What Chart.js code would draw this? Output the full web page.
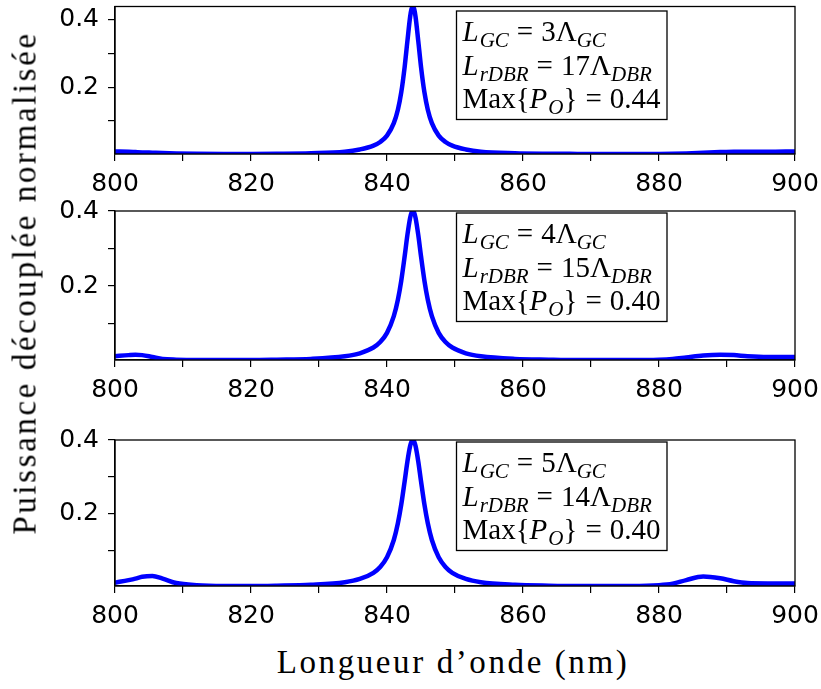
<!DOCTYPE html>
<html>
<head>
<meta charset="utf-8">
<script src="https://cdn.jsdelivr.net/npm/chart.js@4.4.0/dist/chart.umd.min.js"></script>
<style>
  html, body { margin: 0; padding: 0; background: #fff; }
  #fig { position: relative; width: 821px; height: 689px; overflow: hidden; }
  canvas { position: absolute; left: 0; }
  .ttl { position: absolute; font-family: "Liberation Serif", serif; font-size: 33px;
         letter-spacing: 2.6px; white-space: nowrap; color: #000; }
  #xt { left: 453px; top: 662px; transform: translate(-50%, -50%); }
  #yt { left: 25px; top: 283px; transform: translate(-50%, -50%) rotate(-90deg); }
</style>
</head>
<body>
<div id="fig">
  <canvas id="c1" width="821" height="200" style="top:0px"></canvas>
  <canvas id="c2" width="821" height="206" style="top:200px"></canvas>
  <canvas id="c3" width="821" height="226" style="top:406px"></canvas>
  <div class="ttl" id="xt">Longueur d’onde (nm)</div>
  <div class="ttl" id="yt">Puissance découplée normalisée</div>
</div>
<script>
// wavelength grid (nm), shared by the three panels
const WAVELENGTHS = [800, 802, 803, 804, 805.5, 807, 809, 812, 816, 820, 823.8, 828.8, 833.8, 836, 838, 839, 840,
  841, 841.6, 842.1, 842.6, 843, 843.4, 843.6, 843.8, 844, 844.2, 844.6, 845, 845.5, 846, 846.6, 847.6, 848.6,
  849.6, 851.6, 853.8, 858.8, 863.8, 868, 872, 876, 880, 882, 884, 886.5, 889, 891, 893, 896, 900];

// L_GC = 3, L_rDBR = 17
const POWER_1 = [0.009, 0.008, 0.007, 0.006, 0.005, 0.004, 0.003, 0.002, 0.0015, 0.0015, 0.002, 0.0035, 0.008,
  0.0147, 0.026, 0.037, 0.056, 0.093, 0.133, 0.185, 0.261, 0.337, 0.409, 0.432, 0.44, 0.432, 0.409, 0.337,
  0.261, 0.185, 0.133, 0.093, 0.056, 0.037, 0.026, 0.0147, 0.008, 0.0035, 0.002, 0.0015, 0.0012, 0.0012,
  0.0015, 0.002, 0.003, 0.005, 0.007, 0.008, 0.008, 0.008, 0.009];

// L_GC = 4, L_rDBR = 15
const POWER_2 = [0.013, 0.016, 0.017, 0.016, 0.011, 0.006, 0.004, 0.003, 0.003, 0.003, 0.004, 0.006, 0.013,
  0.0209, 0.0362, 0.0508, 0.0753, 0.1197, 0.1636, 0.2147, 0.2797, 0.336, 0.3818, 0.3953, 0.40, 0.3953, 0.3818,
  0.336, 0.2797, 0.2147, 0.1636, 0.1197, 0.0753, 0.0508, 0.0362, 0.0209, 0.013, 0.006, 0.004, 0.003, 0.003,
  0.003, 0.004, 0.006, 0.010, 0.015, 0.017, 0.016, 0.013, 0.011, 0.011];

// L_GC = 5, L_rDBR = 14
const POWER_3 = [0.013, 0.020, 0.024, 0.029, 0.031, 0.024, 0.012, 0.006, 0.004, 0.004, 0.005, 0.0075, 0.0144,
  0.0231, 0.0399, 0.0557, 0.082, 0.1288, 0.174, 0.2252, 0.2885, 0.3414, 0.3835, 0.3958, 0.40, 0.3958, 0.3835,
  0.3414, 0.2885, 0.2252, 0.174, 0.1288, 0.082, 0.0557, 0.0399, 0.0231, 0.0144, 0.0075, 0.005, 0.004, 0.004,
  0.004, 0.006, 0.010, 0.020, 0.030, 0.025, 0.017, 0.012, 0.011, 0.011];

const Y_LIMITS = [[0.0012, 0.44], [0.003, 0.40], [0.004, 0.40]];
const Y_TICKS = [0.1, 0.2, 0.3, 0.4];
const X_MIN = 800, X_MAX = 900, X_STEP = 10;

// annotation text: [text, style]  i = italic, r = roman, s = italic subscript, e = spaced "="
const NOTES = [
  [[['L','i'],['GC','s'],['=','e'],['3Λ','r'],['GC','s']],
   [['L','i'],['rDBR','s'],['=','e'],['17Λ','r'],['DBR','s']],
   [['Max{','r'],['P','i'],['O','s'],['}','r'],['=','e'],['0.44','r']]],
  [[['L','i'],['GC','s'],['=','e'],['4Λ','r'],['GC','s']],
   [['L','i'],['rDBR','s'],['=','e'],['15Λ','r'],['DBR','s']],
   [['Max{','r'],['P','i'],['O','s'],['}','r'],['=','e'],['0.40','r']]],
  [[['L','i'],['GC','s'],['=','e'],['5Λ','r'],['GC','s']],
   [['L','i'],['rDBR','s'],['=','e'],['14Λ','r'],['DBR','s']],
   [['Max{','r'],['P','i'],['O','s'],['}','r'],['=','e'],['0.40','r']]],
];

const SERIF = '"Liberation Serif", serif';
const SANS = '"DejaVu Sans", sans-serif';

const frameAndNote = {
  id: 'frameAndNote',
  afterDraw(chart, args, opts) {
    const { ctx, chartArea: a } = chart;
    ctx.save();
    ctx.strokeStyle = '#000';
    ctx.lineWidth = 1.3;
    ctx.strokeRect(a.left, a.top, a.right - a.left, a.bottom - a.top);

    // text box
    const bx = 456.5, bw = 210.5, bh = 108.5;
    const by = a.top + opts.offset;
    ctx.fillStyle = '#fff';
    ctx.fillRect(bx, by, bw, bh);
    ctx.strokeRect(bx, by, bw, bh);

    ctx.fillStyle = '#000';
    ctx.textBaseline = 'alphabetic';
    opts.lines.forEach((segs, i) => {
      let x = bx + 6;
      const y = by + 30 + i * 33.5;
      segs.forEach(([t, st]) => {
        if (st === 's') {
          ctx.font = 'italic 21px ' + SERIF;
          ctx.fillText(t, x, y + 6);
          x += ctx.measureText(t).width;
        } else if (st === 'i') {
          ctx.font = 'italic 29px ' + SERIF;
          ctx.fillText(t, x, y);
          x += ctx.measureText(t).width + 1;
        } else if (st === 'e') {
          ctx.font = '29px ' + SERIF;
          x += 8;
          ctx.fillText(t, x, y);
          x += ctx.measureText(t).width + 8;
        } else {
          ctx.font = '29px ' + SERIF;
          ctx.fillText(t, x, y);
          x += ctx.measureText(t).width;
        }
      });
    });
    ctx.restore();
  }
};

function makePanel(id, values, lim, topPad, lines, offset) {
  return new Chart(document.getElementById(id), {
    type: 'line',
    data: {
      datasets: [{
        data: WAVELENGTHS.map((x, i) => ({ x, y: values[i] })),
        borderColor: '#0000ff',
        borderWidth: 4.5,
        pointRadius: 0,
        fill: false,
        cubicInterpolationMode: 'monotone',
        clip: 0,
      }]
    },
    options: {
      responsive: false,
      animation: false,
      devicePixelRatio: 1,
      layout: { padding: { top: topPad, left: 0, right: 26, bottom: 0 } },
      plugins: {
        legend: { display: false },
        tooltip: { enabled: false },
        frameAndNote: { lines, offset },
      },
      scales: {
        x: {
          type: 'linear', min: X_MIN, max: X_MAX,
          afterFit: (s) => { s.height = 46; s.paddingLeft = 0; s.paddingRight = 0; },
          ticks: {
            stepSize: X_STEP, autoSkip: false, maxRotation: 0, padding: 8,
            color: '#000', font: { family: SANS, size: 25 },
            callback: (v) => (v % 20 === 0 ? String(v) : ''),
          },
          grid: { drawOnChartArea: false, tickLength: 7, color: '#000', lineWidth: 1.2 },
          border: { color: '#000', width: 1.3 },
        },
        y: {
          type: 'linear', min: lim[0], max: lim[1],
          afterFit: (s) => { s.width = 115; s.paddingTop = 0; s.paddingBottom = 0; },
          afterBuildTicks: (s) => { s.ticks = Y_TICKS.map(v => ({ value: v })); },
          ticks: {
            padding: 9, color: '#000', font: { family: SANS, size: 25 },
            callback: (v) => (Math.round(v * 10) % 2 === 0 ? v.toFixed(1) : ''),
          },
          grid: { drawOnChartArea: false, tickLength: 7, color: '#000', lineWidth: 1.2 },
          border: { color: '#000', width: 1.3 },
        },
      },
    },
    plugins: [frameAndNote],
  });
}

makePanel('c1', POWER_1, Y_LIMITS[0], 6.5, NOTES[0], 4.5);
makePanel('c2', POWER_2, Y_LIMITS[1], 11, NOTES[1], 2);
makePanel('c3', POWER_3, Y_LIMITS[2], 34, NOTES[2], 2);
</script>
</body>
</html>
